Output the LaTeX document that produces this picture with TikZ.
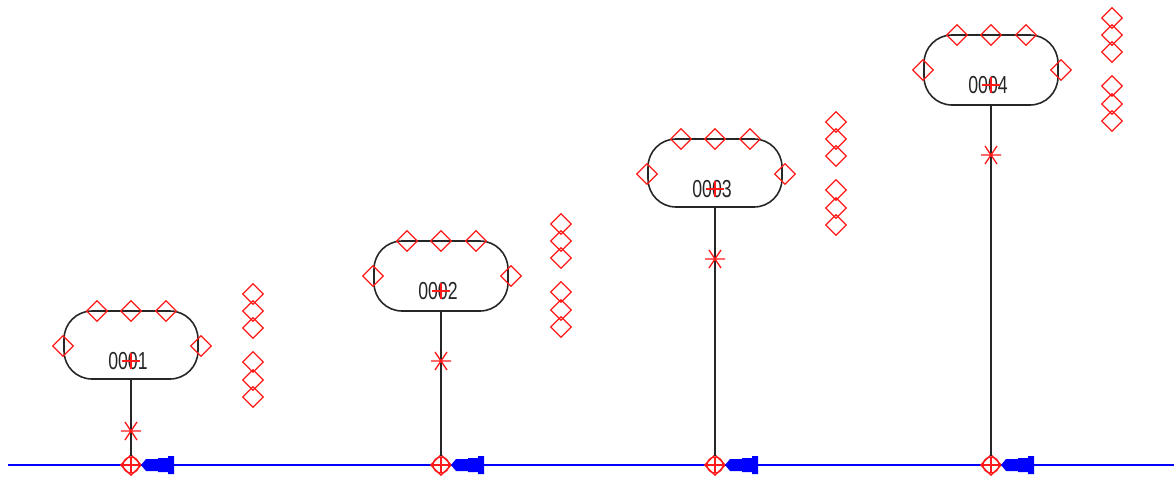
\documentclass[tikz,border=0pt]{standalone}
\usepackage{fontspec}
\setmainfont{Liberation Sans}
\usetikzlibrary{shapes.geometric}
\tikzset{
x=0.02cm, y=-0.02cm, % one unit is one pixel of the drawing
tank/.style={draw=black!85, line width=0.9pt, rectangle, rounded corners=0.56cm, minimum width=2.68cm, inner sep=0pt},
port/.style={draw=red!90!white, line width=0.75pt, diamond, minimum width=0.42cm, minimum height=0.42cm, inner sep=0pt},
junction/.style={draw=red!90!white, line width=0.75pt, circle, minimum size=0.32cm, inner sep=0pt},
tag/.style={font=\fontsize{14}{14}\selectfont, text=black!85, xscale=0.72, inner sep=0pt},
stem/.style={draw=black!85, line width=0.9pt},
bus/.style={draw=blue, line width=1pt},
plusmark/.pic={\draw[red!90!white, line width=0.75pt] (-9,0) -- (9,0) (0,-8) -- (0,8);},
starmark/.pic={\draw[red!90!white, line width=0.75pt] (-10,0) -- (10,0) (-6,-9) -- (6,9) (-6,9) -- (6,-9);},
}
\begin{document}
\begin{tikzpicture}
    \useasboundingbox (0,0) rectangle (1174,477);
    \coordinate (busL) at (8,465);
    \coordinate (busR) at (1174,465);
    \draw[bus] (busL) -- (busR);

    % one riser per tank: number / centre x / top of the tank / its height / x of the stacks
    \foreach \id/\cx/\ty/\hh/\sx in {0001/131/311/68/253, 0002/441/241/70/561, 0003/715/139/68/836, 0004/991/35/70/1112} {
        \node[tank, minimum height=\hh*0.02cm] (tank\id) at (\cx,\ty+\hh/2) {};
        \node[tag] (tag\id) at (\cx-3,\ty+50) {\id};
        \path (\cx,\ty+50) pic {plusmark};
        \node[junction] (jun\id) at (\cx,465) {};
        \node[port] (junport\id) at (\cx,465) {};
        \path (\cx,465) pic {plusmark};
        \draw[stem] (tank\id) -- (jun\id);
        \path (\cx,\ty+120) pic {starmark};

        \node[port] (top1\id) at (\cx-34,\ty) {};
        \node[port] (top2\id) at (\cx,\ty) {};
        \node[port] (top3\id) at (\cx+35,\ty) {};
        \node[port] (left\id) at (\cx-68,\ty+35) {};
        \node[port] (right\id) at (\cx+70,\ty+35) {};

        % the two stacks beside the tank
        \foreach \dy in {-17,0,17,51,69,86}
            \node[port] (side\id\dy) at (\sx,\ty+\dy) {};

        \fill[blue] (\cx+10,465) -- (\cx+15,459) -- (\cx+27,459) -- (\cx+27,458) -- (\cx+37,458) -- (\cx+37,456) -- (\cx+43,456)
            -- (\cx+43,474) -- (\cx+37,474) -- (\cx+37,472) -- (\cx+27,472) -- (\cx+27,471) -- (\cx+15,471) -- cycle;
    }
\end{tikzpicture}
\end{document}
